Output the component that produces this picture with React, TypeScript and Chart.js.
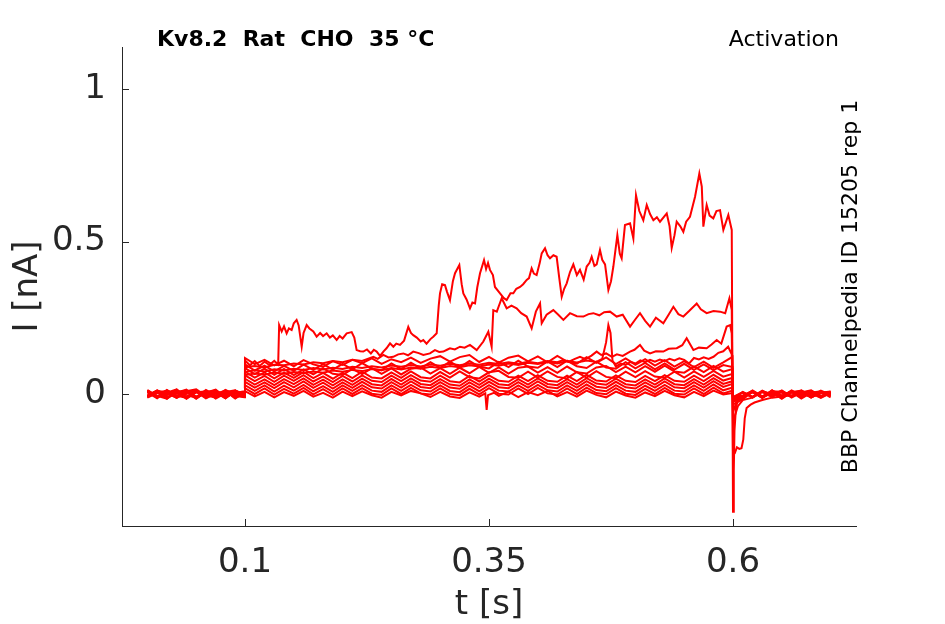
import { useEffect, useRef } from 'react';
import { Chart, ChartConfiguration, Plugin, registerables } from 'chart.js';

Chart.register(...registerables);

// axis ticks and texts
const xTicks = [0.1, 0.35, 0.6];
const yTicks = [0, 0.5, 1];
const TITLE = 'Kv8.2  Rat  CHO  35 °C';
const PROTOCOL = 'Activation';
const SOURCE = 'BBP Channelpedia ID 15205 rep 1';

// shared time base (s) for the small sweeps
const T = [
    0, 0.01, 0.02, 0.03, 0.04, 0.05, 0.06, 0.07, 0.08, 0.09, 0.0995,
    0.1, 0.11, 0.12, 0.13, 0.14, 0.15, 0.16, 0.17, 0.18, 0.19,
    0.2, 0.21, 0.22, 0.23, 0.24, 0.25, 0.26, 0.27, 0.28, 0.29,
    0.3, 0.31, 0.32, 0.33, 0.34, 0.35, 0.36, 0.37, 0.38, 0.39,
    0.4, 0.41, 0.42, 0.43, 0.44, 0.45, 0.46, 0.47, 0.48, 0.49,
    0.5, 0.51, 0.52, 0.53, 0.54, 0.55, 0.56, 0.57, 0.58, 0.59, 0.5995,
    0.6, 0.61, 0.62, 0.63, 0.64, 0.65, 0.66, 0.67, 0.68, 0.69, 0.7,
];

// small sweeps, current in nA, one value per entry of T
const sweep1 = [
    0.012, -0.009, 0.004, 0.015, -0.011, 0.007, -0.014, 0.002, 0.01, -0.008, 0.003,
    0.118, 0.098, 0.112, 0.094, 0.109, 0.091, 0.111, 0.097, 0.089, 0.108,
    0.095, 0.112, 0.101, 0.117, 0.099, 0.114, 0.104, 0.119, 0.102, 0.116,
    0.124, 0.106, 0.121, 0.128, 0.105, 0.122, 0.103, 0.119, 0.126, 0.107,
    0.123, 0.104, 0.125, 0.106, 0.099, 0.121, 0.102, 0.12, 0.098, 0.117,
    0.096, 0.114, 0.093, 0.111, 0.09, 0.108, 0.088, 0.106, 0.086, 0.104, 0.122,
    -0.034, -0.018, 0.008, -0.012, 0.011, -0.009, 0.007, -0.015, 0.004, 0.009, -0.006,
];
const sweep2 = [
    -0.011, 0.008, -0.004, 0.012, -0.016, 0.005, 0.009, -0.007, 0.013, -0.003, -0.009,
    0.097, 0.077, 0.093, 0.074, 0.092, 0.076, 0.096, 0.079, 0.098, 0.08,
    0.099, 0.081, 0.101, 0.083, 0.078, 0.1, 0.082, 0.103, 0.084, 0.104,
    0.086, 0.106, 0.087, 0.108, 0.089, 0.084, 0.105, 0.088, 0.109, 0.09,
    0.086, 0.107, 0.088, 0.109, 0.091, 0.085, 0.106, 0.087, 0.083, 0.104,
    0.084, 0.102, 0.081, 0.1, 0.08, 0.099, 0.079, 0.097, 0.078, 0.095, 0.088,
    -0.026, -0.014, 0.009, -0.01, 0.012, -0.013, 0.006, 0.01, -0.011, 0.004, 0.008,
];
const sweep3 = [
    0.013, -0.006, -0.015, 0.007, 0.011, -0.01, 0.004, 0.014, -0.012, 0.006, 0.002,
    0.085, 0.065, 0.083, 0.063, 0.082, 0.062, 0.081, 0.064, 0.084, 0.066,
    0.062, 0.082, 0.065, 0.085, 0.066, 0.084, 0.064, 0.083, 0.087, 0.067,
    0.085, 0.066, 0.086, 0.068, 0.089, 0.069, 0.087, 0.067, 0.086, 0.09,
    0.07, 0.088, 0.069, 0.09, 0.071, 0.067, 0.087, 0.092, 0.072, 0.09,
    0.071, 0.091, 0.073, 0.093, 0.074, 0.07, 0.09, 0.072, 0.092, 0.073, 0.082,
    -0.022, -0.01, 0.007, -0.013, 0.01, 0.004, -0.009, 0.012, -0.005, 0.008, -0.011,
];
const sweep4 = [
    -0.008, 0.011, 0.003, -0.013, 0.009, 0.015, -0.006, -0.011, 0.007, 0.012, -0.007,
    0.073, 0.054, 0.071, 0.051, 0.07, 0.053, 0.072, 0.052, 0.069, 0.05,
    0.07, 0.052, 0.073, 0.054, 0.051, 0.071, 0.053, 0.074, 0.055, 0.051,
    0.072, 0.054, 0.074, 0.055, 0.051, 0.071, 0.076, 0.056, 0.053, 0.073,
    0.054, 0.074, 0.056, 0.051, 0.072, 0.054, 0.075, 0.056, 0.052, 0.073,
    0.055, 0.075, 0.057, 0.053, 0.073, 0.054, 0.074, 0.056, 0.076, 0.057, 0.066,
    -0.019, -0.009, 0.012, -0.008, 0.009, -0.012, 0.005, 0.011, -0.009, 0.007, 0.002,
];
const sweep5 = [
    0.005, -0.014, 0.009, 0.002, -0.01, 0.012, -0.013, 0.007, -0.003, 0.011, -0.005,
    0.061, 0.042, 0.059, 0.04, 0.06, 0.043, 0.062, 0.041, 0.058, 0.039,
    0.059, 0.041, 0.061, 0.043, 0.039, 0.06, 0.042, 0.062, 0.044, 0.04,
    0.06, 0.042, 0.038, 0.059, 0.041, 0.061, 0.043, 0.04, 0.06, 0.042,
    0.062, 0.043, 0.04, 0.06, 0.042, 0.063, 0.044, 0.041, 0.061, 0.043,
    0.039, 0.059, 0.042, 0.062, 0.043, 0.04, 0.06, 0.042, 0.063, 0.044, 0.053,
    -0.016, 0.005, -0.011, 0.009, -0.006, 0.012, -0.009, 0.003, 0.01, -0.008, 0.005,
];
const sweep6 = [
    -0.012, 0.003, 0.011, -0.008, 0.006, -0.011, 0.013, -0.005, 0.009, -0.015, 0.006,
    0.05, 0.031, 0.048, 0.029, 0.049, 0.032, 0.051, 0.03, 0.047, 0.028,
    0.048, 0.03, 0.05, 0.032, 0.028, 0.049, 0.031, 0.051, 0.033, 0.029,
    0.049, 0.031, 0.027, 0.048, 0.03, 0.05, 0.032, 0.029, 0.049, 0.031,
    0.051, 0.033, 0.029, 0.049, 0.031, 0.052, 0.034, 0.03, 0.05, 0.032,
    0.028, 0.048, 0.031, 0.051, 0.032, 0.029, 0.049, 0.031, 0.052, 0.033, 0.042,
    -0.014, -0.008, 0.007, -0.012, 0.005, 0.01, -0.007, 0.009, -0.011, 0.003, 0.007,
];
const sweep7 = [
    0.01, -0.009, -0.003, 0.014, -0.011, 0.007, 0.001, -0.013, 0.009, 0.004, -0.009,
    0.04, 0.021, 0.038, 0.019, 0.039, 0.022, 0.041, 0.02, 0.037, 0.018,
    0.038, 0.02, 0.04, 0.022, 0.018, 0.039, 0.021, 0.041, 0.023, 0.019,
    0.039, 0.021, 0.017, 0.038, 0.02, 0.04, 0.022, 0.019, 0.039, 0.021,
    0.041, 0.023, 0.019, 0.039, 0.021, 0.042, 0.024, 0.02, 0.04, 0.022,
    0.018, 0.038, 0.021, 0.041, 0.022, 0.019, 0.039, 0.021, 0.042, 0.023, 0.033,
    -0.013, 0.007, -0.009, 0.011, -0.005, 0.009, -0.012, 0.005, 0.012, -0.007, 0.003,
];
const sweep8 = [
    -0.005, 0.012, -0.011, 0.005, 0.009, -0.016, 0.007, 0.011, -0.007, 0.003, 0.009,
    0.029, 0.01, 0.028, 0.008, 0.027, 0.011, 0.03, 0.009, 0.026, 0.007,
    0.028, 0.01, 0.029, 0.011, 0.007, 0.028, 0.01, 0.03, 0.012, 0.008,
    0.028, 0.01, 0.006, 0.027, 0.009, 0.029, 0.011, 0.008, 0.028, 0.01,
    0.03, 0.012, 0.008, 0.028, 0.01, 0.031, 0.013, 0.009, 0.029, 0.011,
    0.007, 0.027, 0.01, 0.03, 0.011, 0.008, 0.028, 0.01, 0.031, 0.012, 0.021,
    -0.011, -0.005, 0.01, -0.009, 0.007, -0.011, 0.009, 0.002, -0.008, 0.011, -0.003,
];
const sweep9 = [
    0.007, -0.011, 0.012, -0.005, -0.013, 0.009, -0.007, 0.005, -0.014, 0.011, 0.0,
    0.019, 0.0, 0.018, -0.002, 0.017, 0.001, 0.02, -0.001, 0.016, -0.003,
    0.018, 0.0, 0.019, 0.001, -0.003, 0.018, 0.0, 0.02, 0.002, -0.002,
    0.018, 0.0, -0.004, 0.017, -0.001, 0.019, 0.001, -0.002, 0.018, 0.0,
    0.02, 0.002, -0.002, 0.018, 0.0, 0.021, 0.003, -0.001, 0.019, 0.001,
    -0.003, 0.017, 0.0, 0.02, 0.001, -0.002, 0.018, 0.0, 0.021, 0.002, 0.011,
    -0.01, 0.005, -0.012, 0.009, 0.0, -0.009, 0.012, -0.005, 0.007, -0.011, 0.004,
];

// larger sweeps as [t (s), I (nA)] pairs
const sweepA: [number, number][] = [
    [0, 0.009], [0.01, -0.012], [0.02, 0.013], [0.03, -0.006], [0.04, 0.01], [0.05, -0.014],
    [0.06, 0.005], [0.07, -0.009], [0.08, 0.012], [0.09, -0.005], [0.0995, 0.003],
    [0.1, 0.11], [0.105, 0.094], [0.11, 0.108], [0.115, 0.092], [0.12, 0.106], [0.125, 0.095],
    [0.13, 0.109], [0.134, 0.097], [0.135, 0.226], [0.1376, 0.205], [0.14, 0.222], [0.1427, 0.199],
    [0.145, 0.215], [0.1478, 0.21], [0.15, 0.232], [0.1529, 0.243], [0.155, 0.225], [0.1581, 0.155],
    [0.16, 0.2], [0.1632, 0.226], [0.166, 0.215], [0.17, 0.205], [0.1734, 0.188], [0.177, 0.2],
    [0.18, 0.19], [0.1837, 0.199], [0.187, 0.185], [0.19, 0.192], [0.1939, 0.177], [0.197, 0.19],
    [0.2, 0.182], [0.2042, 0.199], [0.2093, 0.203], [0.212, 0.185], [0.2144, 0.144], [0.218, 0.14],
    [0.2212, 0.139], [0.225, 0.146], [0.229, 0.133], [0.232, 0.145], [0.2349, 0.139], [0.2383, 0.125],
    [0.242, 0.14], [0.245, 0.15], [0.2486, 0.166], [0.252, 0.155], [0.255, 0.165], [0.2588, 0.161],
    [0.263, 0.175], [0.2673, 0.22], [0.27, 0.2], [0.2724, 0.193], [0.276, 0.185], [0.28, 0.172],
    [0.2827, 0.177], [0.286, 0.165], [0.29, 0.18], [0.2929, 0.188], [0.2964, 0.199], [0.2985, 0.29],
    [0.2998, 0.33], [0.302, 0.36], [0.3049, 0.357], [0.307, 0.335], [0.31, 0.308], [0.313, 0.37],
    [0.3152, 0.396], [0.3196, 0.423], [0.322, 0.36], [0.3237, 0.33], [0.327, 0.31], [0.3305, 0.281],
    [0.333, 0.3], [0.3357, 0.297], [0.338, 0.35], [0.3408, 0.396], [0.3449, 0.439], [0.347, 0.41],
    [0.349, 0.43], [0.351, 0.407], [0.354, 0.39], [0.3561, 0.351], [0.3613, 0.33], [0.365, 0.315],
    [0.3681, 0.308], [0.372, 0.33], [0.3749, 0.33], [0.378, 0.345], [0.3818, 0.351], [0.385, 0.36],
    [0.3886, 0.374], [0.391, 0.38], [0.3937, 0.412], [0.396, 0.395], [0.3988, 0.39], [0.402, 0.43],
    [0.404, 0.461], [0.4074, 0.478], [0.41, 0.455], [0.4125, 0.445], [0.416, 0.455], [0.4193, 0.45],
    [0.422, 0.38], [0.4245, 0.319], [0.427, 0.345], [0.4296, 0.363], [0.433, 0.4], [0.4364, 0.425],
    [0.44, 0.39], [0.4432, 0.407], [0.447, 0.375], [0.4501, 0.418], [0.453, 0.43], [0.4552, 0.45],
    [0.458, 0.42], [0.4603, 0.425], [0.4637, 0.472], [0.466, 0.44], [0.4689, 0.425], [0.4723, 0.341],
    [0.475, 0.37], [0.4774, 0.418], [0.4815, 0.521], [0.484, 0.46], [0.4859, 0.445], [0.4893, 0.554],
    [0.4945, 0.56], [0.4979, 0.51], [0.5006, 0.652], [0.504, 0.6], [0.5081, 0.57], [0.5116, 0.62],
    [0.515, 0.59], [0.5184, 0.57], [0.522, 0.58], [0.5252, 0.565], [0.5321, 0.592], [0.535, 0.55],
    [0.5372, 0.479], [0.54, 0.52], [0.5423, 0.565], [0.546, 0.55], [0.5491, 0.532], [0.552, 0.565],
    [0.5559, 0.581], [0.5611, 0.647], [0.5655, 0.723], [0.568, 0.68], [0.5696, 0.549], [0.573, 0.62],
    [0.576, 0.585], [0.5798, 0.576], [0.583, 0.6], [0.5867, 0.603], [0.5901, 0.538], [0.5952, 0.587],
    [0.5987, 0.538], [0.6, -0.386], [0.6008, -0.25], [0.6015, -0.12], [0.603, -0.045], [0.605, -0.02],
    [0.608, -0.012], [0.612, -0.004], [0.62, 0.006], [0.63, -0.011], [0.64, 0.008], [0.65, -0.007],
    [0.66, 0.01], [0.67, -0.01], [0.68, 0.005], [0.69, -0.008], [0.7, 0.006],
];

const sweepB: [number, number][] = [
    [0, -0.006], [0.01, 0.011], [0.02, -0.012], [0.03, 0.007], [0.04, -0.015], [0.05, 0.009],
    [0.06, -0.003], [0.07, 0.012], [0.08, -0.01], [0.09, 0.005], [0.0995, -0.007],
    [0.1, 0.088], [0.11, 0.092], [0.12, 0.087], [0.13, 0.096], [0.14, 0.094], [0.15, 0.1],
    [0.16, 0.097], [0.17, 0.104], [0.18, 0.101], [0.19, 0.108], [0.2, 0.104], [0.21, 0.112],
    [0.22, 0.108], [0.2315, 0.122], [0.236, 0.115], [0.2417, 0.128], [0.247, 0.12], [0.2519, 0.122],
    [0.257, 0.13], [0.2622, 0.133], [0.267, 0.127], [0.2724, 0.139], [0.278, 0.134], [0.2827, 0.128],
    [0.2895, 0.133], [0.2946, 0.144], [0.299, 0.138], [0.3032, 0.139], [0.307, 0.145], [0.31, 0.15],
    [0.315, 0.146], [0.3203, 0.155], [0.325, 0.152], [0.3305, 0.161], [0.3374, 0.144], [0.3442, 0.172],
    [0.3493, 0.204], [0.3527, 0.155], [0.3544, 0.275], [0.358, 0.27], [0.363, 0.314], [0.3681, 0.281],
    [0.373, 0.29], [0.3783, 0.281], [0.383, 0.265], [0.3886, 0.254], [0.3937, 0.215], [0.398, 0.27],
    [0.4023, 0.297], [0.404, 0.232], [0.409, 0.26], [0.4159, 0.275], [0.421, 0.26], [0.4262, 0.243],
    [0.433, 0.265], [0.44, 0.255], [0.4467, 0.254], [0.452, 0.262], [0.4569, 0.265], [0.463, 0.258],
    [0.468, 0.268], [0.474, 0.27], [0.4808, 0.254], [0.487, 0.26], [0.4945, 0.221], [0.5, 0.245],
    [0.5047, 0.265], [0.51, 0.24], [0.515, 0.221], [0.521, 0.25], [0.5286, 0.232], [0.534, 0.26],
    [0.5389, 0.286], [0.544, 0.262], [0.5491, 0.254], [0.555, 0.272], [0.5628, 0.297], [0.567, 0.278],
    [0.573, 0.265], [0.58, 0.272], [0.5867, 0.27], [0.592, 0.265], [0.5963, 0.314], [0.5987, 0.275],
    [0.6, -0.2], [0.6018, -0.194], [0.604, -0.175], [0.6065, -0.18], [0.6087, -0.178], [0.6105, -0.15],
    [0.612, -0.08], [0.6139, -0.046], [0.618, -0.035], [0.622, -0.028], [0.63, -0.02], [0.64, -0.012],
    [0.65, -0.008], [0.66, -0.004], [0.67, 0.0], [0.68, -0.006], [0.69, 0.002], [0.7, -0.003],
];

const sweepC: [number, number][] = [
    [0, -0.008], [0.01, 0.01], [0.02, -0.013], [0.03, 0.004], [0.04, 0.014], [0.05, -0.009],
    [0.06, 0.006], [0.07, -0.005], [0.08, 0.011], [0.09, -0.013], [0.0995, 0.004],
    [0.1, 0.072], [0.11, 0.078], [0.12, 0.074], [0.13, 0.081], [0.14, 0.077], [0.15, 0.083],
    [0.16, 0.079], [0.17, 0.085], [0.18, 0.08], [0.19, 0.086], [0.2, 0.082], [0.21, 0.089],
    [0.22, 0.085], [0.23, 0.091], [0.24, 0.087], [0.25, 0.093], [0.26, 0.089], [0.27, 0.095],
    [0.28, 0.09], [0.29, 0.097], [0.3, 0.093], [0.31, 0.099], [0.32, 0.094], [0.33, 0.1],
    [0.34, 0.096], [0.35, 0.102], [0.36, 0.098], [0.37, 0.104], [0.38, 0.099], [0.39, 0.106],
    [0.4, 0.101], [0.41, 0.108], [0.42, 0.104], [0.4262, 0.111], [0.432, 0.106], [0.438, 0.115],
    [0.4432, 0.122], [0.449, 0.114], [0.455, 0.126], [0.4603, 0.139], [0.465, 0.128], [0.47, 0.133],
    [0.476, 0.122], [0.481, 0.13], [0.487, 0.125], [0.4945, 0.139], [0.499, 0.145], [0.5047, 0.161],
    [0.509, 0.142], [0.515, 0.133], [0.521, 0.14], [0.5286, 0.139], [0.534, 0.148], [0.5423, 0.15],
    [0.548, 0.16], [0.5525, 0.183], [0.5594, 0.144], [0.565, 0.152], [0.573, 0.15], [0.578, 0.162],
    [0.5833, 0.177], [0.588, 0.165], [0.5935, 0.221], [0.597, 0.226], [0.5987, 0.199],
    [0.6, -0.1], [0.602, -0.07], [0.605, -0.04], [0.61, -0.02], [0.62, -0.012], [0.63, 0.006],
    [0.64, -0.01], [0.65, 0.008], [0.66, -0.007], [0.67, 0.005], [0.68, -0.012], [0.69, 0.007], [0.7, -0.005],
];

const sweepD: [number, number][] = [
    [0, 0.01], [0.01, -0.007], [0.02, 0.005], [0.03, -0.013], [0.04, 0.003], [0.05, 0.012],
    [0.06, -0.009], [0.07, 0.007], [0.08, -0.014], [0.09, 0.009], [0.0995, -0.003],
    [0.1, 0.062], [0.11, 0.067], [0.12, 0.063], [0.13, 0.07], [0.14, 0.066], [0.15, 0.072],
    [0.16, 0.068], [0.17, 0.074], [0.18, 0.07], [0.19, 0.077], [0.2, 0.073], [0.21, 0.079],
    [0.22, 0.075], [0.23, 0.082], [0.24, 0.078], [0.25, 0.085], [0.26, 0.08], [0.27, 0.087],
    [0.28, 0.083], [0.29, 0.089], [0.3, 0.085], [0.31, 0.092], [0.32, 0.088], [0.33, 0.094],
    [0.34, 0.09], [0.35, 0.097], [0.36, 0.093], [0.37, 0.1], [0.38, 0.095], [0.39, 0.102],
    [0.4, 0.098], [0.41, 0.105], [0.42, 0.1], [0.43, 0.108], [0.44, 0.103], [0.45, 0.11],
    [0.46, 0.105], [0.466, 0.115], [0.47, 0.17], [0.4723, 0.226], [0.4745, 0.2], [0.4765, 0.11],
    [0.48, 0.09], [0.485, 0.1], [0.49, 0.095], [0.495, 0.105], [0.5, 0.1], [0.505, 0.11],
    [0.51, 0.104], [0.515, 0.112], [0.52, 0.106], [0.525, 0.113], [0.53, 0.108], [0.535, 0.115],
    [0.54, 0.11], [0.545, 0.117], [0.55, 0.112], [0.555, 0.1], [0.56, 0.118], [0.565, 0.113],
    [0.57, 0.12], [0.575, 0.115], [0.58, 0.122], [0.585, 0.135], [0.59, 0.14], [0.595, 0.155],
    [0.5987, 0.13], [0.6, -0.06], [0.603, -0.03], [0.607, -0.015], [0.61, -0.01], [0.62, 0.005],
    [0.63, -0.009], [0.64, 0.01], [0.65, -0.005], [0.66, 0.008], [0.67, -0.011], [0.68, 0.003],
    [0.69, -0.008], [0.7, 0.005],
];

// lowest sweep, with the short downward spike near 0.35 s
const sweepE: [number, number][] = [
    [0, -0.009], [0.01, 0.005], [0.02, -0.016], [0.03, 0.01], [0.04, -0.003], [0.05, -0.013],
    [0.06, 0.008], [0.07, -0.015], [0.08, 0.003], [0.09, -0.007], [0.0995, -0.011],
    [0.1, 0.009], [0.11, -0.008], [0.12, 0.007], [0.13, -0.011], [0.14, 0.006], [0.15, -0.006],
    [0.16, 0.01], [0.17, -0.009], [0.18, 0.004], [0.19, -0.012], [0.2, 0.008], [0.21, -0.007],
    [0.22, 0.009], [0.23, -0.004], [0.24, -0.012], [0.25, 0.007], [0.26, -0.005], [0.27, 0.01],
    [0.28, 0.002], [0.29, -0.01], [0.3, 0.007], [0.31, -0.008], [0.32, -0.013], [0.33, 0.005],
    [0.34, -0.009], [0.3462, 0.002], [0.3476, -0.052], [0.349, -0.004], [0.355, 0.004], [0.36, -0.006],
    [0.37, 0.008], [0.38, -0.01], [0.39, 0.006], [0.4, -0.004], [0.41, 0.01], [0.42, -0.008],
    [0.43, 0.006], [0.44, -0.009], [0.45, 0.011], [0.46, -0.003], [0.47, -0.011], [0.48, 0.008],
    [0.49, -0.005], [0.5, -0.012], [0.51, 0.005], [0.52, -0.007], [0.53, 0.01], [0.54, -0.004],
    [0.55, -0.011], [0.56, 0.007], [0.57, -0.007], [0.58, 0.011], [0.59, -0.002], [0.5995, 0.003],
    [0.6, -0.015], [0.61, -0.007], [0.62, 0.008], [0.63, -0.012], [0.64, 0.004], [0.65, -0.016],
    [0.66, 0.006], [0.67, -0.009], [0.68, 0.002], [0.69, -0.013], [0.7, 0.004],
];

const gridSweeps = [sweep1, sweep2, sweep3, sweep4, sweep5, sweep6, sweep7, sweep8, sweep9];
const pairSweeps = [sweepA, sweepB, sweepC, sweepD, sweepE];

const FONT = 'DejaVu Sans';
const INK = '#262626';

// inward tick marks and the text around the axes
const decorPlugin: Plugin<'line'> = {
    id: 'decor',
    afterDraw(chart) {
        const { ctx, chartArea, scales } = chart;
        ctx.save();
        ctx.strokeStyle = INK;
        ctx.lineWidth = 1;
        xTicks.forEach((v) => {
            const px = Math.round(scales.x.getPixelForValue(v)) + 0.5;
            ctx.beginPath();
            ctx.moveTo(px, chartArea.bottom);
            ctx.lineTo(px, chartArea.bottom - 7);
            ctx.stroke();
        });
        yTicks.forEach((v) => {
            const py = Math.round(scales.y.getPixelForValue(v)) + 0.5;
            ctx.beginPath();
            ctx.moveTo(chartArea.left, py);
            ctx.lineTo(chartArea.left + 7, py);
            ctx.stroke();
        });

        ctx.fillStyle = '#000';
        ctx.textBaseline = 'alphabetic';
        ctx.font = `bold 22px "${FONT}"`;
        ctx.textAlign = 'left';
        ctx.fillText(TITLE, chartArea.left + 35, chartArea.top - 1);
        ctx.font = `22px "${FONT}"`;
        ctx.textAlign = 'right';
        ctx.fillText(PROTOCOL, chartArea.right - 17, chartArea.top - 1);

        ctx.translate(chartArea.right + 1, (chartArea.top + chartArea.bottom) / 2);
        ctx.rotate(-Math.PI / 2);
        ctx.textAlign = 'center';
        ctx.fillText(SOURCE, 0, 0);
        ctx.restore();
    },
};

const App: React.FC = () => {
    const canvasRef = useRef<HTMLCanvasElement | null>(null);

    useEffect(() => {
        if (!canvasRef.current) return;

        const datasets = [
            ...gridSweeps.map((vals, i) => ({
                label: `sweep ${i + 1}`,
                data: vals.map((y, j) => ({ x: T[j], y })),
            })),
            ...pairSweeps.map((pts, i) => ({
                label: `sweep ${gridSweeps.length + i + 1}`,
                data: pts.map(([x, y]) => ({ x, y })),
            })),
        ].map((d) => ({
            ...d,
            borderColor: '#ff0000',
            backgroundColor: '#ff0000',
            borderWidth: 2,
            pointRadius: 0,
            tension: 0,
            fill: false,
        }));

        const config: ChartConfiguration<'line'> = {
            type: 'line',
            data: { datasets },
            options: {
                animation: false,
                responsive: false,
                parsing: false,
                layout: { padding: { left: 0, top: 47, right: 89, bottom: 0 } },
                plugins: {
                    legend: { display: false },
                    tooltip: { enabled: false },
                    title: { display: false },
                },
                scales: {
                    x: {
                        type: 'linear',
                        min: -0.026,
                        max: 0.726,
                        grid: { display: false, drawTicks: false },
                        border: { display: true, color: INK, width: 1 },
                        afterBuildTicks: (s) => {
                            s.ticks = xTicks.map((value) => ({ value }));
                        },
                        afterFit: (s) => {
                            s.height = 98;
                        },
                        ticks: {
                            autoSkip: false,
                            maxRotation: 0,
                            padding: 17,
                            color: INK,
                            font: { family: FONT, size: 34 },
                            callback: (v) => String(v),
                        },
                        title: {
                            display: true,
                            text: 't [s]',
                            color: INK,
                            font: { family: FONT, size: 34, lineHeight: 1 },
                            padding: { top: 0, bottom: 2 },
                        },
                    },
                    y: {
                        type: 'linear',
                        min: -0.433,
                        max: 1.138,
                        grid: { display: false, drawTicks: false },
                        border: { display: true, color: INK, width: 1 },
                        afterBuildTicks: (s) => {
                            s.ticks = yTicks.map((value) => ({ value }));
                        },
                        afterFit: (s) => {
                            s.width = 122;
                        },
                        ticks: {
                            padding: 16,
                            color: INK,
                            font: { family: FONT, size: 34 },
                            callback: (v) => String(v),
                        },
                        title: {
                            display: true,
                            text: 'I [nA]',
                            color: INK,
                            font: { family: FONT, size: 34 },
                            padding: { top: 8, bottom: 0 },
                        },
                    },
                },
            },
            plugins: [decorPlugin],
        };

        const chart = new Chart(canvasRef.current, config);
        return () => chart.destroy();
    }, []);

    return (
        <div style={{ position: 'fixed', left: 0, top: 0, width: 945, height: 624, background: '#fff' }}>
            <canvas ref={canvasRef} width={945} height={624} style={{ display: 'block' }} />
        </div>
    );
};

export default App;
